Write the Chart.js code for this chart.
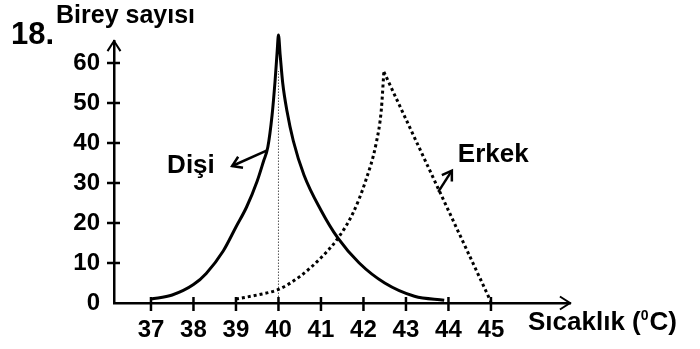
<!DOCTYPE html>
<html>
<head>
<meta charset="utf-8">
<script src="https://cdn.jsdelivr.net/npm/chart.js@4"></script>
<style>
  html, body { margin: 0; padding: 0; background: #fff; }
  #wrap { width: 700px; height: 349px; }
</style>
</head>
<body>
<div id="wrap"><canvas id="chart"></canvas></div>
<script>
// tick labels
const xTicks = [37, 38, 39, 40, 41, 42, 43, 44, 45];
const yTicks = [0, 10, 20, 30, 40, 50, 60];

// Dişi (solid curve)
const disiX = [37, 37.5, 38, 38.3, 38.7, 39.0, 39.25, 39.5, 39.65, 39.75, 39.85, 39.92, 39.97, 40.0,
  40.04, 40.1, 40.2, 40.35, 40.6, 41.0, 41.4, 41.9, 42.5, 43.2, 43.9];
const disiY = [1, 2, 4.6, 7.4, 13, 19, 24, 30.5, 35.5, 39, 47, 55.5, 63, 67,
  62, 55, 48, 40.5, 32, 23.2, 16.2, 10, 5, 1.7, 0.7];

// Erkek (dotted curve) - rising part and straight falling part
const erkekRiseX = [39.0, 39.5, 40.0, 40.5, 41.0, 41.4, 41.75, 42.05, 42.3, 42.42, 42.48];
const erkekRiseY = [1.0, 2.0, 3.4, 6.6, 11.3, 16.2, 22.4, 30.5, 40, 48.3, 57.8];
const erkekFallX = [42.48, 45];
const erkekFallY = [57.8, 0.3];

// thin dotted marker at 40
const markX = [40, 40];
const markY = [0, 58];

function pts(xs, ys) { return xs.map((x, i) => ({ x: x, y: ys[i] })); }

const FONT = "'Liberation Sans', Arial, sans-serif";

function arrowHead(ctx, x1, y1, x2, y2, len) {
  const a = Math.atan2(y2 - y1, x2 - x1);
  const w = Math.PI / 5.5;
  ctx.beginPath();
  ctx.moveTo(x2 - len * Math.cos(a - w), y2 - len * Math.sin(a - w));
  ctx.lineTo(x2, y2);
  ctx.lineTo(x2 - len * Math.cos(a + w), y2 - len * Math.sin(a + w));
  ctx.stroke();
}

const decorPlugin = {
  id: "decor",
  afterDraw(chart) {
    const ctx = chart.ctx;
    const xs = chart.scales.x, ys = chart.scales.y;
    const area = chart.chartArea;
    ctx.save();
    ctx.strokeStyle = "#000";
    ctx.fillStyle = "#000";
    ctx.lineCap = "butt";

    // tick marks crossing the axes
    ctx.lineWidth = 2.5;
    yTicks.forEach((v) => {
      if (v === 0) return;
      const py = ys.getPixelForValue(v);
      ctx.beginPath();
      ctx.moveTo(area.left - 7, py);
      ctx.lineTo(area.left + 6, py);
      ctx.stroke();
    });
    xTicks.forEach((v) => {
      const px = xs.getPixelForValue(v);
      ctx.beginPath();
      ctx.moveTo(px, area.bottom - 6);
      ctx.lineTo(px, area.bottom + 8);
      ctx.stroke();
    });

    // axis arrows
    ctx.lineWidth = 2;
    arrowHead(ctx, area.left, area.bottom, area.left, area.top, 12);
    arrowHead(ctx, area.left, area.bottom, area.right, area.bottom, 12);

    // annotation arrows
    ctx.lineWidth = 2.5;
    const ann = [
      { from: [39.72, 38.1], to: [38.91, 34.25] },
      { from: [43.76, 27.8], to: [44.08, 33.1] }
    ];
    ann.forEach((a) => {
      const x1 = xs.getPixelForValue(a.from[0]), y1 = ys.getPixelForValue(a.from[1]);
      const x2 = xs.getPixelForValue(a.to[0]), y2 = ys.getPixelForValue(a.to[1]);
      ctx.beginPath();
      ctx.moveTo(x1, y1);
      ctx.lineTo(x2, y2);
      ctx.stroke();
      arrowHead(ctx, x1, y1, x2, y2, 11);
    });

    // texts
    ctx.textBaseline = "alphabetic";
    ctx.textAlign = "left";
    ctx.font = "bold 26px " + FONT;
    ctx.fillText("Dişi", xs.getPixelForValue(37.38), ys.getPixelForValue(32.5));
    ctx.fillText("Erkek", xs.getPixelForValue(44.22), ys.getPixelForValue(35.25));

    ctx.font = "bold 31px " + FONT;
    ctx.fillText("18.", 11, 44);
    ctx.font = "bold 25px " + FONT;
    ctx.fillText("Birey sayısı", 56, 23);

    // x axis title with superscript
    ctx.font = "bold 26px " + FONT;
    let tx = 528;
    const ty = 330;
    ctx.fillText("Sıcaklık (", tx, ty);
    tx += ctx.measureText("Sıcaklık (").width;
    ctx.font = "bold 14px " + FONT;
    ctx.fillText("0", tx, ty - 10);
    tx += ctx.measureText("0").width + 1;
    ctx.font = "bold 26px " + FONT;
    ctx.fillText("C)", tx, ty);
    ctx.restore();
  }
};

const ctx = document.getElementById("chart").getContext("2d");
const chart = new Chart(ctx, {
  type: "line",
  data: {
    datasets: [
      {
        label: "Dişi",
        data: pts(disiX, disiY),
        borderColor: "#000",
        borderWidth: 3,
        pointRadius: 0,
        cubicInterpolationMode: "monotone",
        clip: false
      },
      {
        label: "Erkek",
        data: pts(erkekRiseX, erkekRiseY),
        borderColor: "#000",
        borderWidth: 3,
        borderDash: [3, 3],
        pointRadius: 0,
        cubicInterpolationMode: "monotone",
        clip: false
      },
      {
        label: "Erkek2",
        data: pts(erkekFallX, erkekFallY),
        borderColor: "#000",
        borderWidth: 3,
        borderDash: [3, 3],
        pointRadius: 0,
        tension: 0,
        clip: false
      },
      {
        label: "mark",
        data: pts(markX, markY),
        borderColor: "#555",
        borderWidth: 1,
        borderDash: [1.5, 1.5],
        pointRadius: 0,
        tension: 0
      }
    ]
  },
  options: {
    responsive: true,
    maintainAspectRatio: false,
    animation: false,
    layout: { padding: { top: 41, right: 130, left: 0, bottom: 0 } },
    plugins: {
      legend: { display: false },
      tooltip: { enabled: false }
    },
    scales: {
      x: {
        type: "linear",
        min: 36.13,
        max: 46.86,
        afterBuildTicks: (scale) => { scale.ticks = xTicks.map((v) => ({ value: v })); },
        afterFit: (scale) => { scale.height = 46; },
        grid: { display: false, drawTicks: false },
        border: { display: true, color: "#000", width: 2.5 },
        ticks: {
          padding: 13,
          color: "#000",
          autoSkip: false,
          maxRotation: 0,
          font: { family: FONT, size: 24, weight: "bold" }
        }
      },
      y: {
        type: "linear",
        min: 0,
        max: 65.5,
        afterBuildTicks: (scale) => { scale.ticks = yTicks.map((v) => ({ value: v })); },
        afterFit: (scale) => { scale.width = 114; },
        grid: { display: false, drawTicks: false },
        border: { display: true, color: "#000", width: 2.5 },
        ticks: {
          padding: 14,
          color: "#000",
          autoSkip: false,
          font: { family: FONT, size: 24, weight: "bold" }
        }
      }
    }
  },
  plugins: [decorPlugin]
});
</script>
</body>
</html>
